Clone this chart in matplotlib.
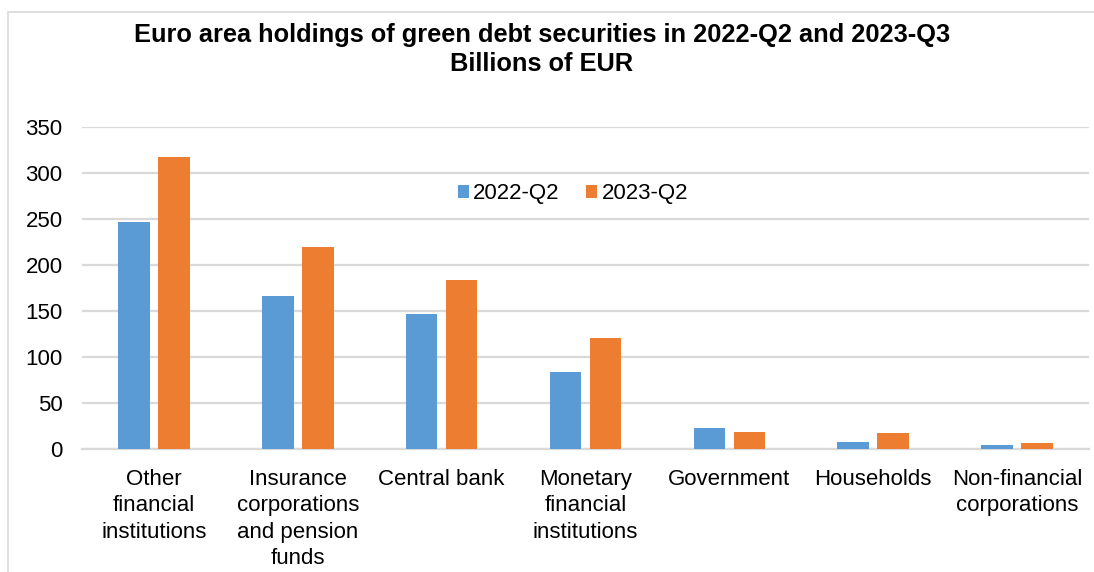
import matplotlib

matplotlib.use("Agg")
import matplotlib.pyplot as plt
import numpy as np
from matplotlib.patches import Rectangle

plt.rcParams["font.family"] = ["Liberation Sans", "DejaVu Sans"]

categories = [
    "Other\nfinancial\ninstitutions",
    "Insurance\ncorporations\nand pension\nfunds",
    "Central bank",
    "Monetary\nfinancial\ninstitutions",
    "Government",
    "Households",
    "Non-financial\ncorporations",
]
q2_2022 = [247, 166, 147, 84, 23, 8, 4]
q2_2023 = [317, 220, 184, 121, 19, 17, 6]
series_names = ["2022-Q2", "2023-Q2"]
yticks = [0, 50, 100, 150, 200, 250, 300, 350]

blue = "#5b9bd5"
orange = "#ed7d31"
grid = "#d9d9d9"
fs = 16

fig = plt.figure(figsize=(10.94, 5.72), dpi=100)
fig.patches.append(Rectangle((8 / 1094, -0.01), 1.1, 1 - 12 / 572 + 0.01, transform=fig.transFigure,
                             fill=False, edgecolor="#d9d9d9", linewidth=1.2))
ax = fig.add_axes([82 / 1094, 1 - 449 / 572, 1007 / 1094, 322 / 572])

x = np.arange(len(categories))
width = 0.22
offset = 0.139
ax.bar(x - offset, q2_2022, width, color=blue, label=series_names[0], zorder=3)
ax.bar(x + offset, q2_2023, width, color=orange, label=series_names[1], zorder=3)

ax.set_xlim(-0.5, len(categories) - 0.5)
ax.set_ylim(0, 350)
ax.set_yticks(yticks)
ax.yaxis.grid(True, color=grid, linewidth=1.6, zorder=0)
ax.set_axisbelow(True)
for side in ["top", "right", "left"]:
    ax.spines[side].set_visible(False)
ax.spines["bottom"].set_color(grid)
ax.spines["bottom"].set_linewidth(1.6)
ax.tick_params(axis="y", length=0, pad=14, labelsize=fs, colors="#000000")
ax.tick_params(axis="x", length=0, pad=14.5, labelsize=fs)
ax.set_xticks(x)
ax.set_xticklabels(categories, linespacing=1.33, va="top")

ax.legend(loc="center", bbox_to_anchor=(573 / 1094, 1 - 194 / 572), bbox_transform=fig.transFigure,
          ncol=2, frameon=False, fontsize=fs, handlelength=0.5, handleheight=0.5,
          handletextpad=0.2, columnspacing=1.2)

fig.text(542 / 1094, 1 - 35 / 572, "Euro area holdings of green debt securities in 2022-Q2 and 2023-Q3",
         ha="center", va="center", fontsize=18.3, fontweight="bold")
fig.text(542 / 1094, 1 - 64 / 572, "Billions of EUR", ha="center", va="center",
         fontsize=18.3, fontweight="bold")

fig.savefig("out.png", dpi=100)
